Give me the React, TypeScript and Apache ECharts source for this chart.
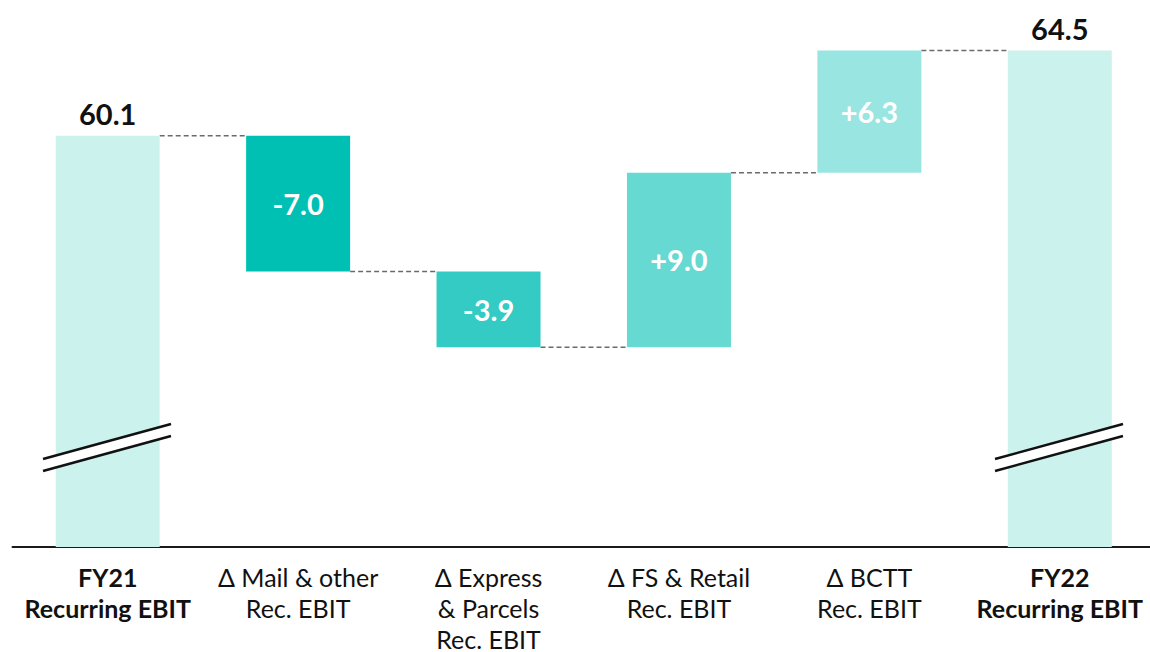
import React, { useEffect, useRef } from "react";
import * as echarts from "echarts";

const categories = [
  "FY21|Recurring EBIT",
  "Δ Mail & other|Rec. EBIT",
  "Δ Express|& Parcels|Rec. EBIT",
  "Δ FS & Retail|Rec. EBIT",
  "Δ BCTT|Rec. EBIT",
  "FY22|Recurring EBIT",
];
const isTotal = [true, false, false, false, false, true];
const startValue = 60.1;
const deltas = [-7.0, -3.9, 9.0, 6.3];
const endValue = 64.5;
const barColors = ["#ccf2ee", "#00bfb3", "#33cbc3", "#66d9d3", "#99e5e1", "#ccf2ee"];

const FONT = "Lato, 'Open Sans', sans-serif";

export default function App() {
  const ref = useRef<HTMLDivElement>(null);
  useEffect(() => {
    if (!ref.current) return;
    const chart = echarts.init(ref.current, null, { renderer: "svg" });

    const base: number[] = [];
    const height: number[] = [];
    const levels: number[] = [];
    base.push(0);
    height.push(startValue);
    levels.push(startValue);
    let cur = startValue;
    deltas.forEach((d) => {
      const next = Math.round((cur + d) * 10) / 10;
      base.push(Math.min(cur, next));
      height.push(Math.abs(d));
      levels.push(next);
      cur = next;
    });
    base.push(0);
    height.push(endValue);
    levels.push(endValue);

    const labelText = (i: number) =>
      isTotal[i]
        ? (i === 0 ? startValue : endValue).toFixed(1)
        : (deltas[i - 1] > 0 ? "+" : "") + deltas[i - 1].toFixed(1);

    const barWidth = 104;

    const option: any = {
      animation: false,
      grid: { left: 12.5, right: 5, top: 4, bottom: 105 },
      xAxis: {
        type: "category",
        data: categories,
        axisLine: { show: true, lineStyle: { color: "#1a1a1a", width: 2 } },
        axisTick: { show: false },
        axisLabel: {
          interval: 0,
          margin: 14,
          formatter: (v: string, idx: number) => {
            const key = isTotal[idx] ? "b" : "n";
            return v
              .split("|")
              .map((s) => `{${key}|${s}}`)
              .join("\n");
          },
          rich: {
            b: { fontFamily: FONT, fontSize: 25, fontWeight: "bold", color: "#111", lineHeight: 31 },
            n: { fontFamily: FONT, fontSize: 25, color: "#111", lineHeight: 31 },
          },
        },
      },
      yAxis: {
        type: "value",
        min: 38.9,
        max: 66.9,
        show: false,
        splitLine: { show: false },
      },
      series: [
        {
          type: "bar",
          stack: "wf",
          barWidth,
          silent: true,
          itemStyle: { color: "transparent" },
          data: base,
        },
        {
          type: "bar",
          stack: "wf",
          barWidth,
          data: height.map((h, i) => ({
            value: h,
            itemStyle: { color: barColors[i] },
            label: {
              show: true,
              position: isTotal[i] ? "top" : "inside",
              distance: 8,
              formatter: () => labelText(i),
              fontFamily: FONT,
              fontSize: 29,
              fontWeight: "bold",
              color: isTotal[i] ? "#111" : "#ffffff",
            },
          })),
        },
        {
          type: "custom",
          silent: true,
          data: levels.slice(0, levels.length - 1).map((v, i) => [i, v]),
          renderItem: (params: any, api: any) => {
            const i = api.value(0);
            const v = api.value(1);
            const p1 = api.coord([i, v]);
            const p2 = api.coord([i + 1, v]);
            return {
              type: "line",
              shape: { x1: p1[0] + barWidth / 2, y1: p1[1], x2: p2[0] - barWidth / 2, y2: p2[1] },
              style: { stroke: "#6b6b6b", lineWidth: 1.5, lineDash: [5, 3] },
            };
          },
        },
      ],
      graphic: [0, 1].map((k) => {
        const dx = k === 0 ? 0 : 952;
        return {
          type: "group",
          silent: true,
          z: 100,
          children: [
            {
              type: "polygon",
              z: 100,
              shape: { points: [[43 + dx, 459], [171 + dx, 424], [171 + dx, 436], [43 + dx, 471]] },
              style: { fill: "#ffffff" },
            },
            {
              type: "line",
              z: 101,
              shape: { x1: 43 + dx, y1: 459, x2: 171 + dx, y2: 424 },
              style: { stroke: "#111", lineWidth: 2.5 },
            },
            {
              type: "line",
              z: 101,
              shape: { x1: 43 + dx, y1: 471, x2: 171 + dx, y2: 436 },
              style: { stroke: "#111", lineWidth: 2.5 },
            },
          ],
        };
      }),
    };
    chart.setOption(option);
    return () => chart.dispose();
  }, []);
  return (
    <div
      ref={ref}
      style={{ position: "fixed", left: 0, top: 0, width: 1160, height: 652, background: "#fff" }}
    />
  );
}
